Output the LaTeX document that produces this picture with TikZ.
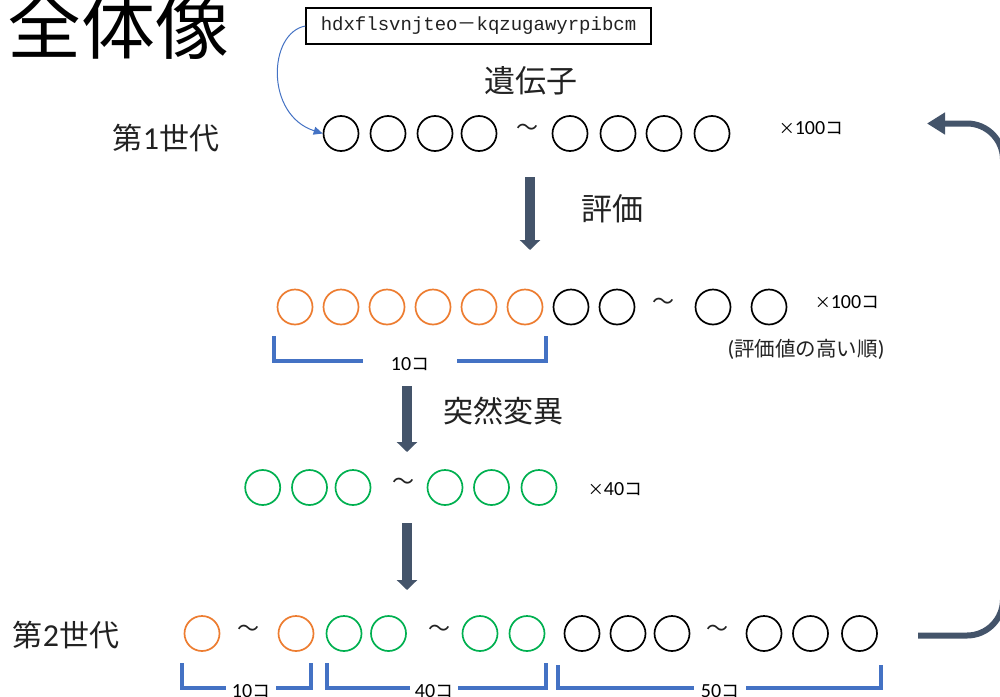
\documentclass[tikz,border=0pt]{standalone}
\usepackage{fontspec}
\newfontfamily\cjk{Noto Sans CJK JP}
\newfontfamily\lat{Carlito}
\newfontfamily\mono{Liberation Mono}
\usetikzlibrary{arrows.meta}
\definecolor{arrowC}{HTML}{44546A}
\definecolor{orangeC}{HTML}{ED7D31}
\definecolor{greenC}{HTML}{00B050}
\definecolor{blueC}{HTML}{4472C4}
\definecolor{txtC}{HTML}{222222}
\tikzset{
  gene/.style={circle, draw, line width=1.7pt, minimum size=35pt, inner sep=0pt},
  og/.style={gene, draw=orangeC},
  gr/.style={gene, draw=greenC},
  bk/.style={gene, draw=black},
  tld/.style={inner sep=0pt, text=txtC, font=\cjk\fontsize{22}{22}\selectfont},
  jp/.style={inner sep=0pt, text=txtC, font=\cjk\fontsize{31}{31}\selectfont},
  cnt/.style={inner sep=0pt, text=black, font=\lat\fontsize{20}{20}\selectfont},
  brk/.style={draw=blueC, line width=4pt},
  brklab/.style={cnt, fill=white},
  bigarrow/.style={draw=arrowC, line width=9.5pt, -{Triangle[length=10pt,width=20pt]}},
}
\newcommand{\cnttext}[1]{#1{\cjk\fontsize{18}{18}\selectfont コ}}
\newcommand{\timestext}[1]{{\cjk\fontsize{16}{16}\selectfont ×}#1{\cjk\fontsize{18}{18}\selectfont コ}}
\begin{document}
\begin{tikzpicture}[x=1pt,y=-1pt]
\useasboundingbox (0,0) rectangle (1000,696);
\fill[white] (0,0) rectangle (1000,696);
\clip (0,0) rectangle (1000,696);

% title and labels
\node[inner sep=0pt, font=\cjk\fontsize{74}{74}\selectfont] (title) at (118,25) {全体像};
\node[draw, line width=1.3pt, minimum width=345pt, minimum height=36pt, inner sep=0pt,
      text=txtC, font=\mono\fontsize{19}{19}\selectfont] (box) at (478.5,26)
      {hdxflsvnjteo{\cjk －}kqzugawyrpibcm};
\node[jp] (gene) at (530.5,80.5) {遺伝子};
\node[jp, font=\cjk\fontsize{30}{30}\selectfont] (gen1) at (166,138.5) {第{\lat\fontsize{32}{32}\selectfont 1}世代};
\node[jp] (eval) at (612,209) {評価};
\node[jp, font=\cjk\fontsize{30}{30}\selectfont] (mut) at (503,411) {突然変異};
\node[jp, font=\cjk\fontsize{30}{30}\selectfont] (gen2) at (66,635) {第{\lat\fontsize{32}{32}\selectfont 2}世代};

% row 1
\foreach \x/\n in {341/a,388/b,435/c,479/d,570/e,618/f,664/g,712/h}
  \node[bk] (r1\n) at (\x,133.5) {};
\node[tld] (t1) at (527,130) {～};
\node[cnt] (c1) at (811,128) {\timestext{100}};

% row 2
\foreach \x/\n in {295/a,341/b,387/c,433/d,479/e,525/f}
  \node[og] (r2\n) at (\x,307) {};
\foreach \x/\n in {571/g,617/h,713/i,769/j}
  \node[bk] (r2\n) at (\x,307) {};
\node[tld] (t2) at (663,304) {～};
\node[cnt] (c2) at (847,302) {\timestext{100}};
\node[inner sep=0pt, text=txtC, font=\cjk\fontsize{20.5}{20.5}\selectfont] (order) at (806,349)
  {{\lat\fontsize{22}{22}\selectfont (}評価値の高い順{\lat\fontsize{22}{22}\selectfont )}};
\draw[brk] (273.5,336) -- (273.5,361) -- (546,361) -- (546,336);
\node[brklab, inner xsep=28pt] (l2) at (410,364) {\cnttext{10}};

% row 3
\foreach \x/\n in {262.7/a,309.5/b,353/c,445/d,491.5/e,539/f}
  \node[gr] (r3\n) at (\x,487.5) {};
\node[tld] (t3) at (403,484) {～};
\node[cnt] (c3) at (615,489) {\timestext{40}};

% row 4
\foreach \x/\n in {202/a,296/b}
  \node[og] (r4\n) at (\x,633.5) {};
\foreach \x/\n in {344/c,388.5/d,480/e,527/f}
  \node[gr] (r4\n) at (\x,633.5) {};
\foreach \x/\n in {582/g,628/h,672/i,764/j,810.5/k,859.5/l}
  \node[bk] (r4\n) at (\x,633.5) {};
\node[tld] (t4a) at (248,631) {～};
\node[tld] (t4b) at (439,631) {～};
\node[tld] (t4c) at (717,631) {～};
\draw[brk] (181.5,663) -- (181.5,688) -- (311,688) -- (311,663);
\draw[brk] (326.5,663) -- (326.5,688) -- (546,688) -- (546,663);
\draw[brk] (557.5,665) -- (557.5,688) -- (880.5,688) -- (880.5,665);
\node[brklab, inner xsep=6pt, anchor=base] (l4a) at (251,697) {\cnttext{10}};
\node[brklab, inner xsep=5pt, anchor=base] (l4b) at (434,697) {\cnttext{40}};
\node[brklab, inner xsep=7pt, anchor=base] (l4c) at (720,697) {\cnttext{50}};

% arrows
\draw[draw=blueC, line width=1pt, -{Triangle[length=9pt,width=8pt]}]
  (box.west) .. controls (268,33) and (265,115) .. (r1a.west);
\coordinate (d1s) at (530,177);
\coordinate (d1e) at (530,250);
\coordinate (d2s) at (407,386);
\coordinate (d2e) at (407,452);
\coordinate (d3s) at (407,523);
\coordinate (d3e) at (407,590);
\draw[bigarrow] (d1s) -- (d1e);
\draw[bigarrow] (d2s) -- (d2e);
\draw[bigarrow] (d3s) -- (d3e);
\coordinate (loopS) at (918,635.5);
\coordinate (loopE) at (927,123.5);
\draw[draw=arrowC, line width=6pt, rounded corners=36pt, -{Triangle[length=18pt,width=21pt]}]
  (loopS) -- (1003,635.5) -- (1003,123.5) -- (loopE);
\end{tikzpicture}
\end{document}
